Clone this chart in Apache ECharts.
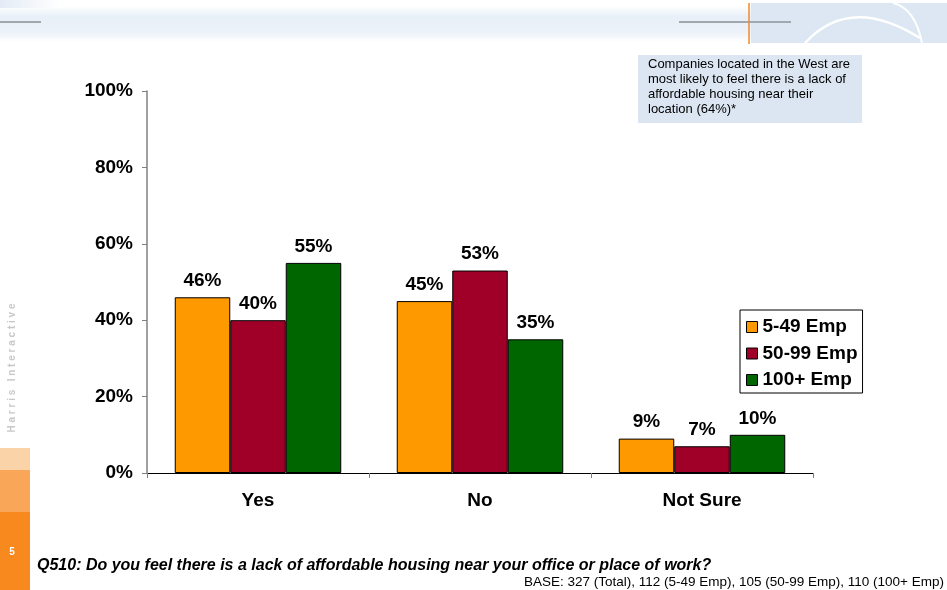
<!DOCTYPE html>
<html>
<head>
<meta charset="utf-8">
<script src="https://cdn.jsdelivr.net/npm/echarts@6/dist/echarts.min.js"></script>
<style>
  html, body { margin: 0; padding: 0; background: #fff; }
  #chart { width: 947px; height: 590px; }
</style>
</head>
<body>
<div id="chart"></div>
<script>
// Survey answers and the three company-size groups
const categories = ['Yes', 'No', 'Not Sure'];
const seriesNames = ['5-49 Emp', '50-99 Emp', '100+ Emp'];
const small = [46, 45, 9];
const medium = [40, 53, 7];
const large = [55, 35, 10];
const yTicks = [0, 20, 40, 60, 80, 100];

const colors = ['#FF9900', '#A00028', '#006600'];
const FONT = '"Liberation Sans", Arial, sans-serif';

const chart = echarts.init(document.getElementById('chart'));

function barSeries(name, values, color) {
  return {
    name: name,
    type: 'bar',
    data: values,
    barGap: '0%',
    barCategoryGap: '25%',
    itemStyle: { color: color, borderColor: '#000', borderWidth: 1 },
    label: {
      show: true,
      position: 'top',
      distance: 7,
      formatter: p => p.value + '%',
      fontFamily: FONT,
      fontWeight: 'bold',
      fontSize: 19,
      color: '#000'
    }
  };
}

// Decorative page furniture: header band, side bar, note box, footer texts
const graphics = [
  // header band, left part
  { type: 'rect', shape: { x: 0, y: 6, width: 752, height: 36 },
    style: { fill: new echarts.graphic.LinearGradient(0, 0, 0, 1, [
      { offset: 0, color: '#ffffff' }, { offset: 0.3, color: '#E7EFF8' },
      { offset: 0.75, color: '#EDF3F9' }, { offset: 1, color: '#ffffff' }]) }, silent: true },
  { type: 'rect', shape: { x: 0, y: 0, width: 60, height: 8 },
    style: { fill: new echarts.graphic.LinearGradient(0, 0, 1, 0, [
      { offset: 0, color: '#E3ECF6' }, { offset: 1, color: '#ffffff' }]) }, silent: true },
  // header band, right block
  { type: 'rect', shape: { x: 751, y: 3, width: 196, height: 40 },
    style: { fill: '#DCE7F3' }, silent: true },
  { type: 'bezierCurve', shape: { x1: 805, y1: 43, cpx1: 850, cpy1: -6, x2: 920, y2: 38 },
    style: { stroke: '#ffffff', lineWidth: 2.5, fill: null }, silent: true },
  { type: 'bezierCurve', shape: { x1: 893, y1: 3, cpx1: 915, cpy1: 8, x2: 922, y2: 43 },
    style: { stroke: '#ffffff', lineWidth: 2, fill: null }, silent: true },
  { type: 'line', shape: { x1: 0, y1: 22, x2: 41, y2: 22 }, style: { stroke: '#A0A8B0', lineWidth: 2 }, silent: true },
  { type: 'line', shape: { x1: 679, y1: 22, x2: 791, y2: 22 }, style: { stroke: '#A0A8B0', lineWidth: 2 }, silent: true },
  { type: 'line', shape: { x1: 749, y1: 3, x2: 749, y2: 44 }, style: { stroke: '#F08A30', lineWidth: 1.5 }, silent: true },

  // left side bar
  { type: 'rect', shape: { x: 0, y: 448, width: 30, height: 22 },
    style: { fill: '#FBD3A8' }, silent: true },
  { type: 'rect', shape: { x: 0, y: 470, width: 30, height: 42 },
    style: { fill: '#F9A659' }, silent: true },
  { type: 'rect', shape: { x: 0, y: 512, width: 30, height: 78 },
    style: { fill: '#F7891E' }, silent: true },
  { type: 'text', x: 12, y: 552, silent: true,
    style: { text: '5', fill: '#ffffff', font: 'bold 10px ' + FONT, align: 'center', verticalAlign: 'middle' } },
  { type: 'text', x: 12, y: 368, rotation: Math.PI / 2, silent: true,
    style: { text: 'H a r r i s   I n t e r a c t i v e', fill: '#C8C8C8', font: 'bold 10px ' + FONT,
      align: 'center', verticalAlign: 'middle' } },

  // note box
  { type: 'rect', shape: { x: 638, y: 55, width: 224, height: 68 },
    style: { fill: '#DCE6F2' }, silent: true },
  { type: 'text', x: 648, y: 57, silent: true,
    style: { text: 'Companies located in the West are\nmost likely to feel there is a lack of\naffordable housing near their\nlocation (64%)*',
      fill: '#000', font: '13px ' + FONT, lineHeight: 15 } },

  // footer
  { type: 'text', x: 37, y: 566, silent: true,
    style: { text: 'Q510: Do you feel there is a lack of affordable housing near your office or place of work?',
      fill: '#000', font: 'italic bold 16px ' + FONT, verticalAlign: 'middle' } },
  { type: 'text', x: 944, y: 582, silent: true,
    style: { text: 'BASE: 327 (Total), 112 (5-49 Emp), 105 (50-99 Emp), 110 (100+ Emp)',
      fill: '#000', font: '13.5px ' + FONT, align: 'right', verticalAlign: 'middle' } }
];

chart.setOption({
  animation: false,
  backgroundColor: '#ffffff',
  color: colors,
  graphic: graphics,
  grid: { left: 147, right: 134, top: 91, bottom: 117, containLabel: false },
  legend: {
    orient: 'vertical',
    left: 740,
    top: 310,
    padding: [7, 5, 3, 6],
    itemGap: 6.5,
    itemWidth: 11,
    itemHeight: 11,
    icon: 'rect',
    borderColor: '#000',
    borderWidth: 1,
    backgroundColor: '#fff',
    itemStyle: { borderColor: '#000', borderWidth: 1 },
    textStyle: { fontFamily: FONT, fontWeight: 'bold', fontSize: 19, lineHeight: 20, color: '#000' },
    data: seriesNames
  },
  xAxis: {
    type: 'category',
    data: categories,
    axisLine: { lineStyle: { color: '#000', width: 1 } },
    axisTick: { show: true, inside: false, length: 5, lineStyle: { color: '#808080' } },
    axisLabel: { margin: 18, fontFamily: FONT, fontWeight: 'bold', fontSize: 19, color: '#000' },
    splitLine: { show: false }
  },
  yAxis: {
    type: 'value',
    min: yTicks[0],
    max: yTicks[yTicks.length - 1],
    interval: yTicks[1] - yTicks[0],
    axisLine: { show: true, lineStyle: { color: '#808080', width: 1.5 } },
    axisTick: { show: true, length: 5, lineStyle: { color: '#808080' } },
    axisLabel: { margin: 14, formatter: '{value}%', fontFamily: FONT, fontWeight: 'bold', fontSize: 19, color: '#000' },
    splitLine: { show: false }
  },
  series: [
    barSeries(seriesNames[0], small, colors[0]),
    barSeries(seriesNames[1], medium, colors[1]),
    barSeries(seriesNames[2], large, colors[2])
  ]
});
</script>
</body>
</html>
